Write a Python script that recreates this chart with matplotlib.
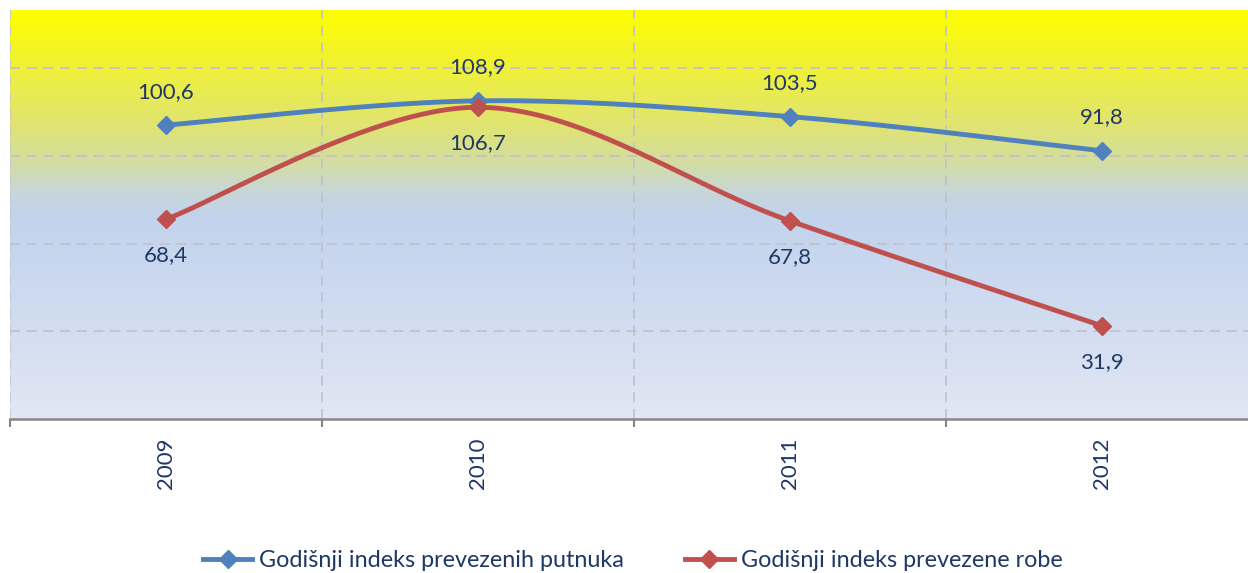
import numpy as np
import matplotlib.pyplot as plt
from matplotlib.colors import LinearSegmentedColormap
from matplotlib.lines import Line2D

# Data
years = ['2009', '2010', '2011', '2012']
putnici = [100.6, 108.9, 103.5, 91.8]
roba = [68.4, 106.7, 67.8, 31.9]
lbl_putnici = 'Godišnji indeks prevezenih putnuka'
lbl_roba = 'Godišnji indeks prevezene robe'

blue = '#4F81BD'
red = '#C0504D'
txtc = '#1F3864'
plt.rcParams['font.family'] = ['Lato', 'DejaVu Sans']


def smooth(y, n=60):
    # Catmull-Rom like Excel smoothed line
    x = np.arange(len(y), dtype=float)
    p = np.array(list(zip(x, y)))
    p = np.vstack([p[0], p, p[-1]])
    out = []
    for i in range(1, len(p) - 2):
        p0, p1, p2, p3 = p[i - 1], p[i], p[i + 1], p[i + 2]
        t = np.linspace(0, 1, n)[:, None]
        c = 0.5 * ((2 * p1) + (-p0 + p2) * t + (2 * p0 - 5 * p1 + 4 * p2 - p3) * t ** 2
                   + (-p0 + 3 * p1 - 3 * p2 + p3) * t ** 3)
        out.append(c)
    out = np.vstack(out)
    return out[:, 0], out[:, 1]


fig = plt.figure(figsize=(12.48, 5.73), dpi=100)
ax = fig.add_axes([10 / 1248, 154 / 573, 1248 / 1248, 409 / 573])
ax.set_xlim(-0.5, 3.5)
ax.set_ylim(0, 140)

# background gradient
cmap = LinearSegmentedColormap.from_list('bg', [
    (0.0, '#FFFF00'), (0.12, '#F2F230'), (0.28, '#E0E472'), (0.37, '#D4DDA0'),
    (0.44, '#C8D7D6'), (0.50, '#C2D3EC'), (0.75, '#D0DCF0'), (1.0, '#E1E7F4')])
grad = np.linspace(0, 1, 256)[:, None]
ax.imshow(grad, extent=[-0.5, 3.5, 0, 140], aspect='auto', cmap=cmap, zorder=0, origin='upper')

for gy in [30, 60, 90, 120]:
    ax.axhline(gy, color='#C0C0C8', lw=1.2, ls=(0, (6, 4)), zorder=1)
for gx in [-0.5, 0.5, 1.5, 2.5]:
    ax.axvline(gx, color='#C0C0C8', lw=1.2, ls=(0, (6, 4)), zorder=1)

x = np.arange(len(years))
sx, sy = smooth(putnici)
ax.plot(sx, sy, color=blue, lw=3.5, zorder=3, solid_capstyle='round')
ax.plot(x, putnici, ls='none', marker='D', ms=9, color=blue, zorder=4)
sx, sy = smooth(roba)
ax.plot(sx, sy, color=red, lw=3.5, zorder=3, solid_capstyle='round')
ax.plot(x, roba, ls='none', marker='D', ms=9, color=red, zorder=4)

fs = 16
for i, v in enumerate(putnici):
    ax.annotate(f'{v:.1f}'.replace('.', ','), (i, v), xytext=(0, 24), textcoords='offset points',
                ha='center', va='center', fontsize=fs, color=txtc, zorder=5)
for i, v in enumerate(roba):
    ax.annotate(f'{v:.1f}'.replace('.', ','), (i, v), xytext=(0, -26), textcoords='offset points',
                ha='center', va='center', fontsize=fs, color=txtc, zorder=5)

ax.set_yticks([])
ax.set_xticks([-0.5, 0.5, 1.5, 2.5, 3.5])
ax.set_xticklabels([])
ax.tick_params(axis='x', length=6, width=1.5, color='#868686')
for i, yr in enumerate(years):
    ax.text(i, -6.5, yr, rotation=90, ha='center', va='top', fontsize=fs, color=txtc,
            clip_on=False)
for s in ['top', 'right', 'left']:
    ax.spines[s].set_visible(False)
ax.spines['bottom'].set_color('#868686')
ax.spines['bottom'].set_linewidth(1.8)
ax.spines['bottom'].set_zorder(6)

handles = [Line2D([], [], color=blue, lw=3.5, marker='D', ms=9),
           Line2D([], [], color=red, lw=3.5, marker='D', ms=9)]
fig.legend(handles, [lbl_putnici, lbl_roba], loc='center', bbox_to_anchor=(0.507, 0.022),
           ncol=2, frameon=False, fontsize=16.8, labelcolor=txtc, handlelength=2.1,
           handletextpad=0.3, columnspacing=2.6)

fig.savefig('out.png', dpi=100)
